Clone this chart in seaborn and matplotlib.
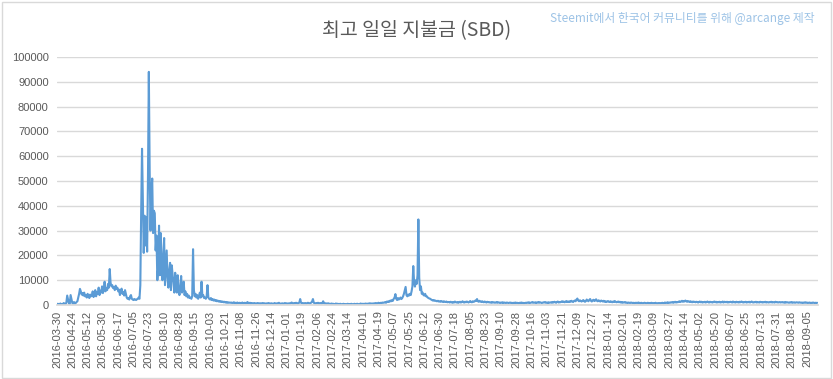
import pandas as pd
import matplotlib
matplotlib.use('Agg')
import matplotlib.pyplot as plt
import seaborn as sns
from matplotlib.patches import Rectangle

# daily max payout in units of 100 SBD
launch = [3, 5, 2, 4, 6, 3, 2, 5, 8, 4, 3, 10, 38, 22, 6, 4, 40, 25, 8, 5, 12]
spring_2016 = [5, 8, 12, 15, 30, 45, 65, 55, 42, 48, 38, 50, 35, 40, 30, 45, 38, 28, 42, 35]
summer_2016 = [40, 55, 32, 48, 60, 35, 52, 45, 70, 40, 58, 50, 75, 48, 62, 94, 55, 68, 60, 85, 70, 145]
july_2016 = [90, 75, 80, 68, 72, 60, 78, 65, 70, 55, 62, 40, 58, 66, 45, 52, 38, 60]
shelf_2016 = [45, 30, 25, 28, 22, 35, 40, 25, 22, 20, 24, 22, 20, 23, 25, 30]
boom_2016 = [25, 80, 380, 630, 420, 210, 360, 240, 355, 215,
             520, 940, 540, 300, 460, 510, 290, 380, 370, 220,
             280, 100, 150, 320, 120, 290, 160, 100, 200, 270,
             80, 150, 220, 110, 70, 140, 170, 60, 160, 120,
             90, 50, 130, 80, 50, 120, 60, 40, 70, 117,
             50, 60, 94, 40, 55, 35, 45, 30, 38, 28,
             30, 25, 35, 225, 60, 35, 45, 30, 40, 25,
             35, 50, 30, 94, 35, 40, 28, 30, 25, 35,
             80, 30, 25, 22, 28, 20, 24, 18, 22, 17,
             20, 15, 18, 14, 16, 13, 15, 12, 14, 11,
             13, 10, 12, 9, 11, 9, 10]
quiet_2016 = [9, 10, 8, 9, 11, 8, 9, 7, 10, 8,
              8, 9, 7, 8, 10, 7, 8, 9, 7, 8,
              12, 8, 7, 9, 6, 8, 7, 6, 8, 7,
              6, 7, 8, 6, 7, 5, 7, 6, 8, 6,
              7, 6, 5, 7, 6, 8, 6, 5, 7, 6,
              5, 6, 8, 6, 5, 7, 6, 9, 6, 5,
              6, 7, 5, 6, 8, 6, 7, 5, 6, 7,
              6, 8, 10, 7, 6, 8, 7, 9, 8, 6,
              7, 10, 24, 9, 7, 8, 6, 7, 8, 6,
              7, 9, 8, 6, 7, 10, 14, 24, 9, 7,
              6, 8, 7, 9, 6, 7, 8, 6, 7, 15,
              8, 6, 7, 5, 6, 7, 5]
spring_2017 = [5, 4, 6, 4, 5, 3, 4, 6, 4, 5,
               4, 3, 5, 4, 3, 4, 5, 3, 4, 3,
               4, 5, 3, 4, 3, 5, 4, 3, 4, 5,
               3, 4, 5, 4, 3, 4, 6, 4, 5, 4,
               5, 4, 6, 5, 4, 6, 5, 7, 5, 6,
               6, 5, 7, 6, 8, 6, 7, 9, 7, 8,
               9, 8, 10, 9]
june_2017 = [10, 12, 9, 14, 12, 15, 13, 18, 15, 20,
             17, 25, 30, 44, 25, 20, 28, 22, 26, 30,
             24, 28, 35, 45, 60, 73, 40, 35, 42, 38,
             45, 40, 55, 75, 157, 90, 74, 100, 85, 120,
             345, 110, 60, 75, 45, 50, 40, 38, 45, 35,
             35, 30, 28, 26, 25, 22, 20, 18, 20, 17,
             18, 16, 15, 17, 14, 15, 13, 16, 14, 12,
             15, 13, 12, 14, 11, 12]
late_2017 = [12, 10, 13, 11, 9, 12, 10, 14, 11, 10,
             12, 9, 11, 13, 10, 12, 15, 11, 10, 13,
             11, 14, 12, 10, 13, 16, 12, 11, 15, 13,
             14, 18, 16, 24, 15, 13, 17, 14, 12, 15,
             13, 11, 14, 12, 10, 13, 11, 12, 10, 11,
             9, 12, 10, 11, 9, 10, 12, 9, 11, 10,
             8, 10, 9, 11, 8, 10, 9, 8, 10, 9,
             8, 9, 10, 8, 9, 7, 9, 8, 10, 8,
             9, 8, 7, 9, 8, 10, 8, 9, 7, 8,
             9, 8, 10, 9, 11, 8, 9, 10, 12, 9,
             10, 9, 11, 8, 10, 12, 9, 11, 10, 8,
             9, 11, 10, 12, 9, 10, 8, 11, 9, 10,
             11, 9, 12, 10, 13, 11, 9, 12, 14, 10,
             12, 11, 13, 15, 12, 14, 11, 13, 16, 12,
             14, 12, 15, 13, 17, 14, 12, 16, 18, 15,
             22, 26, 18, 15, 19, 16, 14, 17, 20, 15,
             13, 16, 22, 18, 15, 20, 24, 17, 14, 19,
             21, 16, 18, 23, 17, 15, 19, 16, 14, 18]
year_2018 = [16, 14, 17, 13, 15, 12, 14, 16, 13, 12,
             15, 13, 11, 14, 12, 16, 13, 11, 12, 14,
             11, 13, 10, 12, 9, 11, 10, 12, 9, 10,
             8, 10, 9, 8, 10, 9, 8, 9, 7, 9,
             8, 9, 8, 10, 8, 7, 9, 8, 7, 8,
             9, 8, 7, 8, 9, 7, 8, 7, 9, 8,
             7, 8, 7, 9, 7, 6, 8, 7, 8, 7,
             8, 9, 7, 8, 10, 8, 9, 11, 8, 10,
             9, 11, 10, 12, 9, 11, 13, 10, 12, 11,
             13, 15, 12, 14, 17, 13, 16, 14, 18, 15,
             13, 16, 14, 12, 15, 13, 11, 14, 12, 13,
             11, 13, 12, 10, 12, 14, 11, 13, 10, 12,
             11, 13, 10, 12, 14, 11, 10, 13, 11, 12,
             10, 12, 14, 11, 13, 10, 12, 11, 13, 10,
             12, 11, 14, 10, 13, 12, 11, 13, 10, 12,
             11, 13, 12, 10, 14, 11, 12, 10, 13, 11,
             12, 10, 13, 11, 14, 12, 10, 12, 11, 13,
             10, 12, 11, 13, 10, 12, 14, 11, 10, 12,
             11, 13, 10, 12, 11, 10, 13, 11, 12, 10,
             12, 11, 13, 10, 12, 11, 10, 12, 11, 13,
             10, 12, 11, 10, 13, 11, 12, 10, 11, 12,
             10, 11, 12, 10, 11, 9, 12, 10, 11, 10,
             9, 11, 10, 12, 9, 10, 11, 9, 10, 11,
             10, 9, 11, 10, 9, 10, 8, 10, 9, 11,
             9, 10, 8, 9, 10, 8, 9, 8, 10, 9,
             8, 9, 8, 9]

payout = (launch + spring_2016 + summer_2016 + july_2016 + shelf_2016 + boom_2016
          + quiet_2016 + spring_2017 + june_2017 + late_2017 + year_2018)
payout = [v * 100 for v in payout]

# first day, then a gap, then one row per day
dates = [pd.Timestamp('2016-03-30')] + list(pd.date_range('2016-04-07', periods=len(payout) - 1))
df = pd.DataFrame({'idx': range(len(payout)), 'date': dates, 'payout': payout})

sns.set_theme(style='white')
plt.rcParams['font.family'] = ['Liberation Sans', 'Noto Sans CJK KR']

fig = plt.figure(figsize=(8.33, 3.79), dpi=100)
ax = fig.add_axes([57 / 833, 1 - 305 / 379, (818 - 57) / 833, (305 - 57) / 379])

sns.lineplot(data=df, x='idx', y='payout', ax=ax, color='#5B9BD5', linewidth=1.5)

ax.set_ylim(0, 100000)
ax.set_xlim(0, len(payout))
ax.set_yticks(range(0, 100001, 10000))
ax.yaxis.grid(True, color='#d9d9d9', linewidth=1)
ax.set_axisbelow(True)

tick_pos = list(range(0, len(payout), 18))
ax.set_xticks(tick_pos)
ax.set_xticklabels([df['date'][i].strftime('%Y-%m-%d') for i in tick_pos], rotation=90)
ax.tick_params(axis='x', labelsize=8, colors='#595959', length=0, pad=4)
ax.tick_params(axis='y', labelsize=8, colors='#595959', length=0, pad=6)
ax.set_xlabel('')
ax.set_ylabel('')

for side in ['top', 'right', 'left']:
    ax.spines[side].set_visible(False)
ax.spines['bottom'].set_color('#d9d9d9')

fig.text(0.5, 0.92, '최고 일일 지불금 (SBD)', ha='center', va='center', fontsize=14,
         color='#595959', family=['Noto Sans CJK KR', 'DejaVu Sans'])
fig.text(0.978, 0.95, 'Steemit에서 한국어 커뮤니티를 위해 @arcange 제작', ha='right', va='center',
         fontsize=8.5, color='#9DC3E6', family=['Noto Sans CJK KR', 'DejaVu Sans'])

fig.patches.append(Rectangle((0.002, 0.003), 0.995, 0.993, transform=fig.transFigure,
                             fill=False, edgecolor='#d9d9d9', linewidth=1))

fig.savefig('out.png', dpi=100)
